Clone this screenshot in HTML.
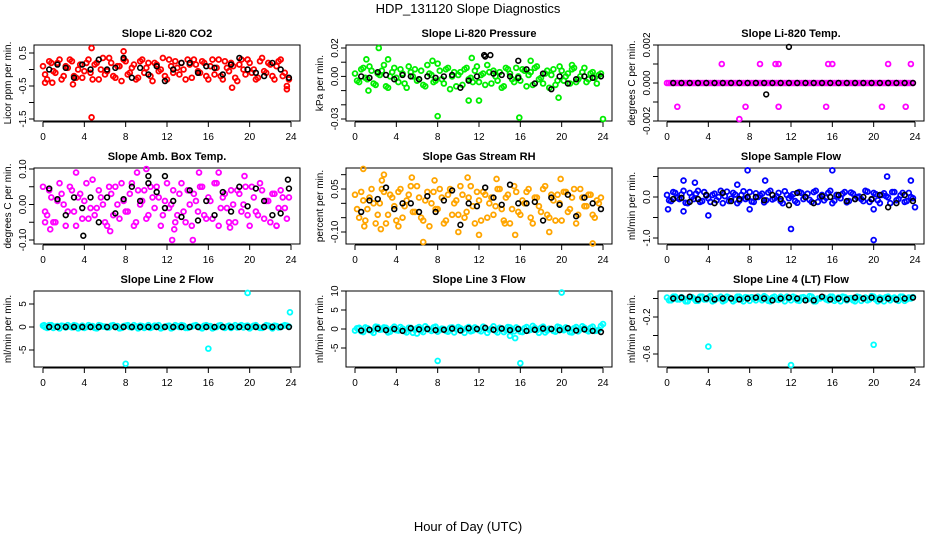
<!DOCTYPE html>
<html><head><meta charset="utf-8">
<style>
html,body{margin:0;padding:0;background:#fff;}
svg{display:block;font-family:"Liberation Sans",Arial,sans-serif;}
</style></head>
<body>
<svg id="chart" width="936" height="540" viewBox="0 0 936 540">
<text x="468" y="13" text-anchor="middle" font-size="13">HDP_131120  Slope Diagnostics</text>
<text x="468" y="531" text-anchor="middle" font-size="13">Hour of Day (UTC)</text>
</svg>
<script>
// ---- data ----
const xTicks = [0,4,8,12,16,20,24];
const titles = ["Slope Li-820 CO2","Slope Li-820 Pressure","Slope Li-820 Temp.","Slope Amb. Box Temp.","Slope Gas Stream RH","Slope Sample Flow","Slope Line 2 Flow","Slope Line 3 Flow","Slope Line 4 (LT) Flow"];
const yLabels = ["Licor ppm per min.","kPa per min.","degrees C per min.","degrees C per min.","percent per min.","ml/min per min.","ml/min per min.","ml/min per min.","ml/min per min."];
const colors = ["#ff0000","#00ee00","#ff00ff","#ff00ff","#ffa500","#0000ff","#00ffff","#00ffff","#00ffff"];
const yTickVals = [[0.5,0,-0.5,-1,-1.5],[0.02,0.01,0,-0.01,-0.02,-0.03],[0.002,0.001,0,-0.001,-0.002],[0.1,0.05,0,-0.05,-0.1],[0.1,0.05,0,-0.05,-0.1],[0.5,0,-0.5,-1],[5,0,-5],[10,5,0,-5],[0,-0.2,-0.4,-0.6]];
const yTickLabels = [["0.5","","-0.5","","-1.5"],["0.02","","0.00","","","-0.03"],["0.002","","0.000","","-0.002"],["0.10","","0.00","","-0.10"],["","0.05","","","-0.10"],["","0.0","","-1.0"],["5","0","-5"],["10","5","0","-5"],["","-0.2","","-0.6"]];
// axis calibration: [valueA, pixelOffsetA, valueB, pixelOffsetB] relative to panel top
const yCal = [[0.5,8,-1.5,74],[0.02,3,-0.03,74],[0.002,0,-0.002,76],[0.1,1,-0.1,72],[0.05,21,-0.1,64],[0,29,-1,70],[5,13,-5,59],[10,0,-5,57],[-0.2,26,-0.6,63]];

const colored = [
[0.1,-0.3,0.2,-0.1,0.3,-0.2,0.05,0.25,-0.25,0.15,-0.05,0.3,-0.3,0.2,0.0,-0.15,0.35,-0.2,0.1,-0.35,0.25,-0.1,0.15,-0.25,0.3,0.05,-0.2,0.2,-0.05,0.35,-0.3,0.1,0.25,-0.15,0.0,0.3,-0.25,0.15,-0.1,0.2,-0.3,0.3,0.05,-0.2,0.25,-0.05,0.1,-0.35,0.3,-0.15,0.2,0.0,-0.25,0.35,-0.1,0.15,-0.3,0.25,-0.2,-0.5],
[0.002,-0.004,0.006,-0.002,0.004,-0.006,0.001,0.008,-0.008,0.003,-0.001,0.005,-0.005,0.007,0.0,-0.003,0.004,-0.007,0.002,-0.004,0.009,-0.002,0.005,-0.009,0.003,0.001,-0.006,0.006,-0.001,0.004,-0.004,0.002,0.008,-0.005,0.0,0.003,-0.007,0.005,-0.002,0.006,-0.003,0.004,0.001,-0.006,0.007,-0.001,0.002,-0.008,0.005,-0.003,0.004,0.0,-0.005,0.006,-0.002,0.003,-0.004,0.002,-0.001,0.001],
[0,0,0,0,0,0,0,0,0,0,0,0,0,0,0,0,0,0,0,0,0,0,0,0,0,0,0,0,0,0,0,0,0,0,0,0,0,0,0,0,0,0,0,0,0,0,0,0,0,0,0,0,0,0,0,0,0,0,0,0],
[0.05,-0.03,0.02,-0.05,0.06,0.0,-0.02,0.04,-0.06,0.03,0.01,-0.04,0.07,-0.01,0.02,-0.05,0.05,-0.03,0.0,0.06,-0.02,0.03,-0.06,0.04,0.01,-0.04,0.05,-0.01,0.02,-0.03,0.06,0.0,-0.05,0.03,-0.02,0.04,-0.06,0.01,0.05,-0.03,0.02,-0.04,0.06,-0.01,0.03,-0.05,0.0,0.04,-0.02,0.05,-0.06,0.02,-0.03,0.04,0.01,-0.05,0.03,-0.01,0.02,-0.04],
[0.03,-0.05,0.01,-0.02,0.05,-0.07,0.0,0.04,-0.04,0.02,-0.06,0.05,-0.01,0.03,-0.03,0.06,-0.05,0.01,-0.08,0.04,-0.02,0.02,-0.06,0.05,0.0,-0.04,0.03,-0.03,0.06,-0.07,0.01,0.04,-0.05,0.02,-0.01,0.05,-0.06,0.03,-0.02,0.04,-0.04,0.0,0.05,-0.07,0.02,-0.03,0.06,-0.05,0.01,0.03,-0.06,0.04,-0.02,0.05,-0.04,0.02,-0.01,0.03,-0.05,0.0],
[0.05,-0.1,0.1,-0.05,0.15,-0.15,0.0,0.08,-0.12,0.12,-0.03,0.05,-0.08,0.15,0.02,-0.1,0.1,-0.15,0.05,-0.05,0.12,-0.12,0.0,0.08,-0.08,0.15,-0.03,0.1,-0.15,0.05,0.02,-0.1,0.12,-0.05,0.08,-0.12,0.15,0.0,-0.08,0.1,-0.15,0.05,-0.03,0.12,-0.1,0.08,0.0,-0.05,0.15,-0.12,0.1,-0.08,0.05,0.02,-0.15,0.12,-0.05,0.1,-0.1,0.0],
[0.3,-0.2,0.4,0.1,-0.3,0.2,0.4,-0.1,0.3,0.0,-0.2,0.4,0.2,-0.3,0.3,0.1,-0.1,0.4,0.2,-0.2,0.3,0.0,0.4,-0.3,0.2,0.1,-0.2,0.3,0.4,-0.1,0.2,-0.3,0.4,0.0,0.3,-0.2,0.1,0.4,-0.1,0.3,0.2,-0.3,0.0,0.4,-0.2,0.3,0.1,-0.1,0.4,0.2,-0.3,0.3,0.0,-0.2,0.4,0.1,0.3,-0.1,0.2,0.3],
[-0.4,0.3,-0.8,0.2,-0.5,0.6,-0.2,0.4,-0.9,0.1,-0.3,0.5,-0.6,0.3,-1.0,0.2,-0.4,0.7,-0.2,0.4,-0.7,0.1,-0.5,0.3,-0.9,0.5,-0.2,0.2,-0.6,0.4,-0.3,0.6,-1.0,0.1,-0.5,0.3,-0.8,0.5,-0.1,0.4,-0.7,0.2,-0.4,0.8,-0.3,0.3,-0.9,0.1,-0.5,0.6,-0.2,0.4,-0.8,0.2,-0.6,0.7,-0.3,0.3,-0.5,-0.2],
[0.01,-0.02,0.02,-0.01,0.0,-0.03,0.015,-0.025,0.02,-0.01,0.01,-0.03,0.0,0.02,-0.02,0.01,-0.03,0.02,-0.01,0.015,-0.025,0.0,0.02,-0.02,0.01,-0.03,0.02,-0.015,0.0,0.02,-0.02,0.01,-0.025,0.015,-0.01,0.02,-0.03,0.0,0.01,-0.02,0.02,-0.01,-0.03,0.015,0.0,-0.02,0.02,-0.025,0.01,-0.01,0.02,-0.03,0.0,0.015,-0.02,0.01,-0.025,0.02,-0.01,0.0]
];
// second sweep of coloured readings, offset in time
const colored2 = [
[-0.15,0.25,-0.05,0.2,-0.3,0.1,0.3,-0.2,0.0,-0.25,0.2,-0.1,0.15,-0.3,0.35,-0.05,0.2,-0.25,0.1,0.3,-0.15,0.05,-0.3,0.25,-0.1,0.2,-0.35,0.15,0.0,-0.2,0.3,-0.1,0.05,0.2,-0.3,0.15,0.3,-0.05,0.25,-0.2,0.1,-0.15,0.3,-0.3,0.05,0.2,-0.25,0.15,0.0,0.3,-0.1,-0.3,0.25,-0.05,0.2,-0.2,0.1,0.3,-0.1,-0.3],
[-0.003,0.005,-0.001,0.007,-0.005,0.002,0.004,-0.007,0.0,0.006,-0.004,0.002,-0.008,0.003,0.005,-0.002,-0.006,0.008,0.001,-0.003,0.004,-0.005,0.006,0.0,-0.007,0.003,0.005,-0.002,-0.004,0.007,0.001,-0.006,0.003,0.004,-0.003,-0.008,0.006,0.002,-0.004,0.0,0.005,-0.007,0.003,0.006,-0.002,-0.005,0.004,0.001,-0.006,0.007,-0.003,0.002,0.005,-0.004,0.0,0.006,-0.002,0.003,-0.005,0.002],
[0,0,0,0,0,0,0,0,0,0,0,0,0,0,0,0,0,0,0,0,0,0,0,0,0,0,0,0,0,0,0,0,0,0,0,0,0,0,0,0,0,0,0,0,0,0,0,0,0,0,0,0,0,0,0,0,0,0,0,0],
[-0.02,0.04,-0.05,0.01,0.03,-0.06,0.05,-0.02,0.02,-0.04,0.06,-0.01,-0.03,0.04,0.0,-0.06,0.03,0.05,-0.04,0.01,-0.02,0.06,-0.05,0.0,0.04,-0.03,0.02,0.05,-0.06,0.01,-0.01,0.04,-0.03,0.06,-0.05,0.0,0.03,-0.02,0.05,-0.04,0.01,0.06,-0.06,0.02,-0.01,0.04,-0.05,0.03,0.0,-0.03,0.05,-0.02,0.06,-0.04,0.01,0.03,-0.06,0.04,-0.01,0.02],
[-0.02,0.04,-0.06,0.02,0.0,-0.04,0.05,-0.07,0.03,-0.01,0.04,-0.05,0.01,0.06,-0.03,0.02,-0.06,0.04,0.0,-0.02,0.05,-0.07,0.03,-0.04,0.01,0.06,-0.05,0.02,-0.01,0.04,-0.06,0.03,0.0,-0.04,0.05,-0.02,0.02,-0.07,0.06,-0.03,0.01,0.04,-0.05,0.02,-0.01,0.05,-0.04,0.03,-0.06,0.0,0.04,-0.03,0.02,-0.07,0.05,-0.01,0.03,-0.04,0.01,0.02],
[-0.08,0.12,-0.02,0.06,-0.14,0.1,-0.05,0.15,-0.1,0.03,-0.12,0.08,0.0,-0.15,0.13,-0.04,0.06,-0.09,0.14,-0.02,-0.11,0.09,0.04,-0.13,0.11,-0.06,0.02,-0.1,0.14,-0.03,0.07,-0.14,0.1,0.0,-0.07,0.12,-0.12,0.05,-0.02,0.15,-0.09,0.03,0.08,-0.13,0.11,-0.05,0.01,-0.1,0.13,-0.06,0.07,-0.15,0.09,-0.01,0.12,-0.08,0.04,-0.12,0.1,-0.03],
[0.0,0.4,-0.2,0.2,0.3,-0.1,0.1,0.4,-0.3,0.3,0.0,0.2,-0.2,0.4,0.1,-0.1,0.3,0.0,-0.3,0.2,0.4,-0.1,0.1,0.3,-0.2,0.4,0.0,0.2,-0.3,0.1,0.3,-0.1,0.2,0.4,-0.2,0.0,0.3,0.1,-0.3,0.4,0.2,-0.1,0.3,0.0,0.1,-0.2,0.4,0.2,-0.1,0.3,0.0,0.4,-0.2,0.1,0.3,-0.3,0.2,0.0,0.4,0.1],
[0.2,-0.6,0.4,-0.3,-1.0,0.5,-0.1,0.3,-0.7,0.6,-0.4,0.1,-0.9,0.3,-0.2,0.5,-0.8,0.2,-0.5,0.6,-0.3,0.0,-0.7,0.4,-0.1,0.2,-1.0,0.5,-0.4,0.1,-0.6,0.3,-0.2,0.7,-0.9,0.2,-0.3,0.4,-0.6,0.1,-0.8,0.5,-0.2,0.3,-1.0,0.6,-0.4,0.0,-0.7,0.4,-0.3,0.2,-0.9,0.5,-0.1,0.3,-0.6,0.6,-0.4,0.8],
[-0.02,0.02,-0.01,0.015,-0.03,0.01,0.0,-0.025,0.02,-0.01,0.025,-0.02,0.005,-0.03,0.02,0.0,-0.015,0.02,-0.03,0.01,0.015,-0.02,0.0,0.025,-0.025,0.01,-0.01,0.02,-0.03,0.005,0.02,-0.02,0.01,-0.015,0.025,-0.03,0.0,0.015,-0.01,0.02,-0.025,0.01,0.02,-0.02,0.005,-0.03,0.015,0.0,-0.02,0.025,-0.01,0.01,-0.03,0.02,0.0,-0.015,0.02,-0.025,0.01,0.015]
];
const black = [
[0.0,0.15,0.05,-0.25,0.15,0.0,0.3,0.0,0.05,0.35,-0.25,0.05,-0.15,0.1,-0.35,0.0,0.2,0.2,-0.1,0.1,0.05,-0.15,0.15,0.35,0.0,-0.1,-0.2,0.2,0.0,-0.25],
[0,-0.001,0.003,0.001,-0.002,0.001,0,-0.002,0,-0.001,0,0.001,-0.008,-0.003,0,0.014,0.002,0.001,0,-0.001,0.005,-0.005,0.002,-0.009,0,-0.005,-0.002,0,-0.001,0],
[0,0,0,0,0,0,0,0,0,0,0,0,0,0,0,0,0,0,0,0,0,0,0,0,0,0,0,0,0,0],
[0.045,0.015,-0.03,0.02,-0.01,0.02,-0.05,0.02,-0.025,0.015,0.05,0.01,0.06,0.035,-0.01,0.01,-0.035,0.04,-0.045,0.01,-0.03,0.035,-0.02,0.05,-0.005,0.045,0.01,-0.03,-0.025,0.045],
[-0.03,0.01,0.015,0.055,-0.02,0.0,0.0,-0.03,0.025,-0.03,0.01,0.045,-0.075,0.0,-0.01,0.055,0.02,-0.005,0.065,0.0,0.0,0.005,-0.06,0.02,-0.005,0.03,-0.045,0.02,0.0,-0.02],
[-0.05,-0.02,-0.12,-0.05,0.05,-0.15,0.1,-0.1,-0.05,0.0,0.0,-0.08,0.05,-0.05,-0.2,0.1,0.0,-0.15,0.02,0.0,0.05,-0.1,-0.05,0.0,-0.05,0.05,-0.25,-0.15,0.05,-0.1],
[0,0,0,0,0,0,0,0,0,0,0,0,0,0,0,0,0,0,0,0,0,0,0,0,0,0,0,0,0,0],
[-0.4,-0.2,0.1,-0.3,0.0,-0.5,0.2,-0.1,0.0,-0.3,-0.2,0.1,-0.4,0.2,0.0,0.3,-0.2,0.1,-0.3,0.0,-0.5,-0.2,0.1,0.0,-0.3,0.2,-0.4,-0.1,-0.5,-0.8],
[0.0,0.01,0.02,-0.01,0.0,-0.01,0.0,0.0,-0.01,0.0,0.01,0.0,-0.02,0.0,0.01,0.0,-0.02,-0.02,0.02,-0.01,0.0,-0.01,0.01,0.0,0.01,-0.01,0.0,-0.01,0.0,0.01]
];
const outlierHours = [
[4.7,4.7,7.8,0.2,18.3,23.6,2.9,0.9],
[2.3,3.2,8,15.9,24,11,12,19.7,7.5,1.1,11.3,17,21,1.3],
[5.3,9,10.5,10.8,15.6,16,21.4,23.6,1,7.6,10.8,15.4,20.8,23.1,7],
[0.2,0.7,3.2,9.1,10,12.5,12.7,14.5,15.1,17,18.1,19.5,6.5,22.6],
[0.8,2.8,2.6,5.5,7.7,10.9,13.7,19.9,0.9,2.5,6.6,10,12,15.5,18.8,23,4.2,14.5],
[0.1,1.6,1.6,2.7,4,7.8,8,9.5,12,16,20,20,21.3,23.6,24,6.8],
[8,16,19.8,23.9,0.1],
[8,16,20,24,15,15.5,6],
[4,12,20]
];
const outlierValues = [
[-1.45,0.65,0.55,-0.4,-0.55,-0.6,-0.45,-0.4],
[0.02,0.012,-0.028,-0.029,-0.03,-0.017,-0.017,-0.015,0.011,0.012,0.013,0.011,0.008,-0.01],
[0.001,0.001,0.001,0.001,0.001,0.001,0.001,0.001,-0.00125,-0.00125,-0.00125,-0.00125,-0.00125,-0.00125,-0.0019],
[-0.05,-0.07,0.09,0.09,0.1,-0.1,-0.07,-0.1,0.09,0.09,-0.065,0.08,-0.075,-0.06],
[0.12,0.1,0.08,0.09,0.08,0.09,0.085,0.085,-0.08,-0.09,-0.135,-0.1,-0.11,-0.11,-0.1,-0.14,-0.08,-0.07],
[-0.3,0.4,-0.35,0.35,-0.45,0.65,-0.3,0.4,-0.78,0.65,-1.05,-0.3,0.5,0.4,-0.25,0.3],
[-8,-4.7,7.4,3.2,0.4],
[-8.4,-9,9.6,1.3,-1.8,-2.4,-1.2],
[-0.52,-0.72,-0.5]
];
const blackOutHours = [[],[12.5,13.1,15.8],[11.8,9.6],[3.9,10.2,11.8,23.7],[],[],[],[],[]];
const blackOutValues = [[],[0.015,0.015,0.011],[0.0019,-0.0006],[-0.088,0.08,0.08,0.07],[],[],[],[],[]];
const coloredStep = 0.4, coloredStart = 0.0, colored2Start = 0.2;
const blackStep = 0.8, blackStart = 0.6;

// ---- drawing ----
const svg = document.getElementById('chart');
const NS = 'http://www.w3.org/2000/svg';
function mk(tag, attrs, parent){
  const e = document.createElementNS(NS, tag);
  for (const k in attrs) e.setAttribute(k, attrs[k]);
  (parent||svg).appendChild(e);
  return e;
}
const BOXW = 266, BOXH = 76, R = 2.4;
for (let p = 0; p < 9; p++) {
  const col = p % 3, row = Math.floor(p / 3);
  const left = 34 + 312 * col, top = 45 + 123 * row;
  const x0 = left + 9;
  const xScale = h => x0 + h * (248 / 24);
  const c = yCal[p];
  const yScale = v => top + c[1] + (v - c[0]) * (c[3] - c[1]) / (c[2] - c[0]);
  const g = mk('g', {});
  
  
  const t = mk('text', {x: left + BOXW / 2, y: top - 8, 'text-anchor': 'middle', 'font-size': '11', 'font-weight': 'bold'}, g);
  t.textContent = titles[p];
  
  
  const yl = mk('text', {x: 0, y: 0, 'text-anchor': 'middle', 'font-size': '10', transform: `translate(${left - 23},${top + BOXH / 2}) rotate(-90)`}, g);
  yl.textContent = yLabels[p];
  
  
  const box = mk('rect', {x: left, y: top, width: BOXW, height: BOXH, fill: 'none', stroke: '#000', 'stroke-width': 1}, g);
  
  
  // x axis
  const xa = mk('g', {}, g);
  
  
  mk('line', {x1: xScale(xTicks[0]), x2: xScale(xTicks[xTicks.length - 1]), y1: top + BOXH + 1, y2: top + BOXH + 1, stroke: '#000'}, xa);
  xTicks.forEach(v => {
    mk('line', {x1: xScale(v), x2: xScale(v), y1: top + BOXH + 1, y2: top + BOXH + 6, stroke: '#000'}, xa);
    const tl = mk('text', {x: xScale(v), y: top + BOXH + 19, 'text-anchor': 'middle', 'font-size': '10'}, xa);
    tl.textContent = v;
    
    
  });
  // y axis
  const ya = mk('g', {}, g);
  
  
  const tv = yTickVals[p];
  mk('line', {x1: left, x2: left, y1: yScale(tv[0]), y2: yScale(tv[tv.length - 1]), stroke: '#000'}, ya);
  tv.forEach((v, i) => {
    const yy = yScale(v);
    mk('line', {x1: left - 5, x2: left, y1: yy, y2: yy, stroke: '#000'}, ya);
    if (yTickLabels[p][i]) {
      const tl = mk('text', {x: 0, y: 0, 'text-anchor': 'middle', 'font-size': '10', transform: `translate(${left - 8},${yy}) rotate(-90)`}, ya);
      tl.textContent = yTickLabels[p][i];
      
      
    }
  });
  // colored series
  const cs = mk('g', {fill: 'none', stroke: colors[p], 'stroke-width': 1.8}, g);
  
  
  colored[p].forEach((v, i) => {
    const pt = mk('circle', {cx: xScale(coloredStart + i * coloredStep), cy: yScale(v), r: R}, cs);
    
    
  });
  colored2[p].forEach((v, i) => {
    const pt = mk('circle', {cx: xScale(colored2Start + i * coloredStep), cy: yScale(v), r: R}, cs);
    
    
  });
  outlierHours[p].forEach((h, i) => {
    const pt = mk('circle', {cx: xScale(h), cy: yScale(outlierValues[p][i]), r: R}, cs);
    
    
  });
  // black series
  const bs = mk('g', {fill: 'none', stroke: '#000', 'stroke-width': 1.6}, g);
  
  
  black[p].forEach((v, i) => {
    const pt = mk('circle', {cx: xScale(blackStart + i * blackStep), cy: yScale(v), r: R}, bs);
    
    
  });
  blackOutHours[p].forEach((h, i) => {
    const pt = mk('circle', {cx: xScale(h), cy: yScale(blackOutValues[p][i]), r: R}, bs);
    
    
  });
}
</script>
</body></html>
